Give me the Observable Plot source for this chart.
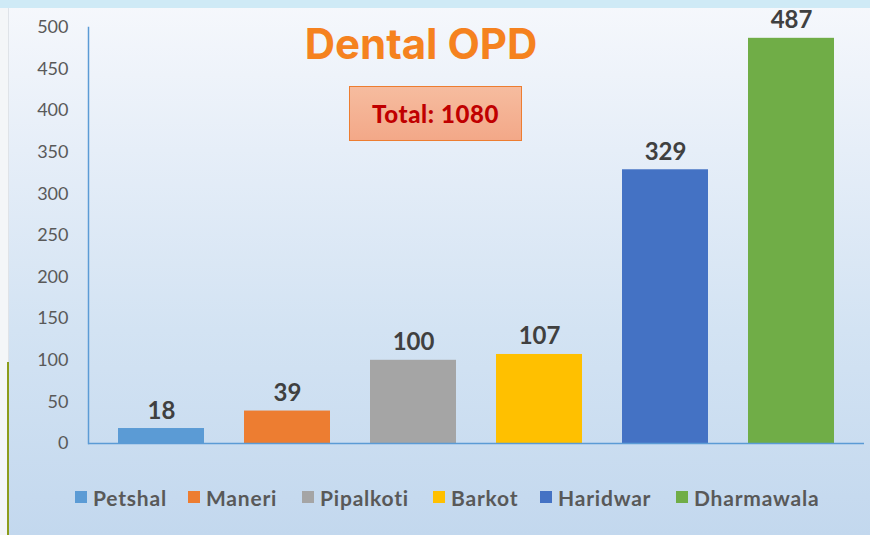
<!DOCTYPE html>
<html><head><meta charset="utf-8">
<script src="https://cdn.jsdelivr.net/npm/d3@7"></script>
<script src="https://cdn.jsdelivr.net/npm/@observablehq/plot@0.6"></script>
<style>
html,body{margin:0;padding:0;}
body{width:870px;height:535px;overflow:hidden;position:relative;
 background:linear-gradient(180deg,#f6f8fc 0px,#e6eef8 150px,#d3e3f3 330px,#c3d8ee 535px);
 font-family:Lato,"Open Sans",sans-serif;}
#topstrip{position:absolute;left:0;top:0;width:870px;height:8px;background:#cfeaf6;}
#leftstrip{position:absolute;left:0;top:8px;width:8px;height:527px;background:#f4f6f8;border-right:1px solid #dfe3e8;}
#olive{position:absolute;left:7px;top:362px;width:2px;height:173px;background:#8c9c1c;}
#chart{position:absolute;left:0;top:0;}
#title{position:absolute;left:221px;width:400px;top:16px;text-align:center;font-family:Inter,sans-serif;font-weight:700;font-size:42px;line-height:56px;color:#F5821F;}
#total{position:absolute;left:349px;top:86px;width:171px;height:53px;border:1.5px solid #ED7D31;
 background:linear-gradient(180deg,#f6bc9f,#f3a888);display:flex;align-items:center;justify-content:center;
 font-family:Lato,sans-serif;font-weight:900;font-size:24px;letter-spacing:0.6px;color:#C00000;}
#legend{position:absolute;left:0;top:482px;width:870px;height:30px;font-family:Lato,sans-serif;font-weight:700;font-size:21px;color:#595959;letter-spacing:0.8px;}
#legend .it{position:absolute;top:0;height:30px;display:flex;align-items:center;gap:6px;white-space:nowrap;}
#legend .sw{width:12px;height:12px;display:inline-block;}
</style></head>
<body>
<div id="topstrip"></div><div id="leftstrip"></div><div id="olive"></div>
<div id="chart"></div>
<div id="title">Dental OPD</div>
<div id="total">Total: 1080</div>
<div id="legend"></div>
<script>
const categories = ["Petshal","Maneri","Pipalkoti","Barkot","Haridwar","Dharmawala"];
const values = [18,39,100,107,329,487];
const colors = ["#5B9BD5","#ED7D31","#A5A5A5","#FFC000","#4472C4","#70AD47"];
const yTicks = [0,50,100,150,200,250,300,350,400,450,500];
const legendX = [75,188,302,433,540,676];

const data = categories.map((c,i)=>({name:c,value:values[i],color:colors[i]}));

const chart = Plot.plot({
  width:870, height:470,
  marginLeft:88, marginRight:6, marginTop:27, marginBottom:27,
  style:{background:"transparent", fontFamily:"Lato, sans-serif"},
  x:{domain:categories, paddingInner:0.32, paddingOuter:0.16, insetLeft:8, insetRight:8, axis:null},
  y:{domain:[0,500], axis:null},
  marks:[
    Plot.frame({anchor:"left", stroke:"#5B9BD5", strokeWidth:1.5}),
    Plot.axisY({ticks:yTicks, label:null, tickSize:0, tickPadding:20, fontSize:18, fill:"#595959", textAnchor:"end"}),
    Plot.barY(data,{x:"name", y:"value", fill:"color"}),
    Plot.ruleY([0],{stroke:"#5B9BD5", strokeWidth:1.5}),
    Plot.text(data,{x:"name", y:"value", text:d=>String(d.value), lineAnchor:"bottom", dy:-10, fontSize:24, fontWeight:"bold", fill:"#404040"})
  ]
});
document.getElementById("chart").appendChild(chart);

const lg = document.getElementById("legend");
categories.forEach((c,i)=>{
  const it=document.createElement("div"); it.className="it"; it.style.left=legendX[i]+"px";
  const sw=document.createElement("span"); sw.className="sw"; sw.style.background=colors[i];
  const t=document.createElement("span"); t.textContent=c;
  it.appendChild(sw); it.appendChild(t); lg.appendChild(it);
});
</script>
</body></html>
